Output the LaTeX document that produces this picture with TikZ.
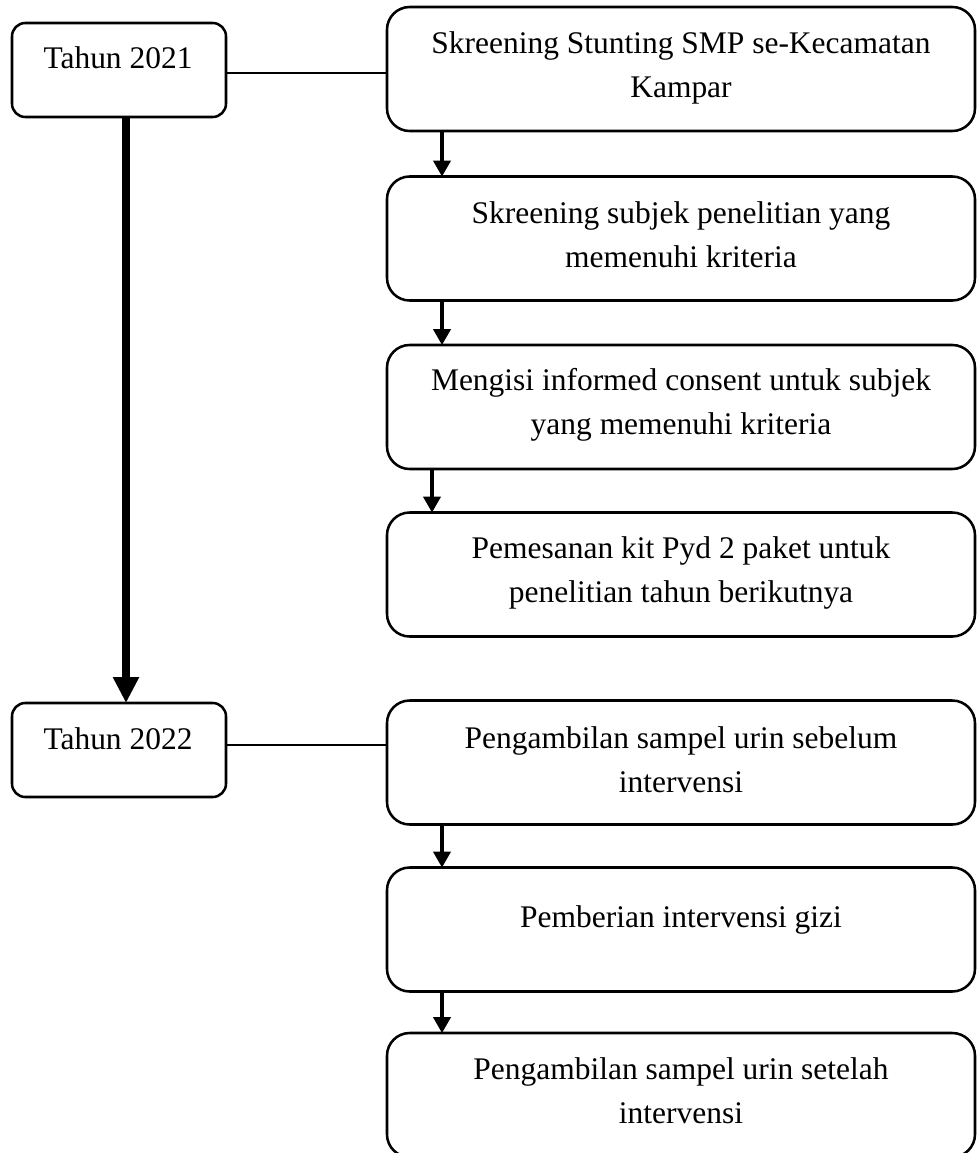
\documentclass[tikz,border=0pt]{standalone}
\usepackage{fontspec}
\setmainfont{Liberation Serif}
\usetikzlibrary{arrows.meta}
\begin{document}
\begin{tikzpicture}[x=0.75pt,y=-0.75pt,
 box/.style={draw, line width=1.9pt, rounded corners=17pt, minimum width=441pt, minimum height=93pt, inner sep=0pt, outer sep=0pt},
 ybox/.style={draw, line width=1.9pt, rounded corners=10pt, minimum width=160.5pt, minimum height=70.5pt, inner sep=0pt, outer sep=0pt},
 txt/.style={anchor=base, inner sep=0pt, font=\fontsize{23.6pt}{33pt}\selectfont},
 arr/.style={line width=2.5pt, -{Triangle[width=13pt,length=12pt]}},
 bigarr/.style={line width=5.4pt, -{Triangle[width=18.5pt,length=19.5pt]}},
 link/.style={line width=1.1pt}]
\useasboundingbox (0,0) rectangle (976,1153);
% year boxes
\node[ybox] (y21) at (119,70) {};
\node[ybox] (y22) at (119,750) {};
\node[txt] (ty21) at (118,68) {Tahun 2021};
\node[txt] (ty22) at (118,749) {Tahun 2022};
% step boxes
\node[box] (b1) at (681,69) {};
\node[box] (b2) at (681,238.5) {};
\node[box] (b3) at (681,407) {};
\node[box] (b4) at (681,574.5) {};
\node[box] (b5) at (681,762.5) {};
\node[box] (b6) at (681,929.5) {};
\node[box] (b7) at (681,1095) {};
% texts
\node[txt] (t1) at (681,53) {\parbox[t]{420pt}{\centering Skreening Stunting SMP se-Kecamatan\\Kampar}};
\node[txt] (t2) at (681,223) {\parbox[t]{420pt}{\centering Skreening subjek penelitian yang\\memenuhi kriteria}};
\node[txt] (t3) at (681,390) {\parbox[t]{420pt}{\centering Mengisi informed consent untuk subjek\\yang memenuhi kriteria}};
\node[txt] (t4) at (681,558) {\parbox[t]{420pt}{\centering Pemesanan kit Pyd 2 paket untuk\\penelitian tahun berikutnya}};
\node[txt] (t5) at (681,748) {\parbox[t]{420pt}{\centering Pengambilan sampel urin sebelum\\intervensi}};
\node[txt] (t6) at (681,927) {\parbox[t]{420pt}{\centering Pemberian intervensi gizi}};
\node[txt] (t7) at (681,1079) {\parbox[t]{420pt}{\centering Pengambilan sampel urin setelah\\intervensi}};
% helper coordinates
\coordinate (ax) at (442,0);
\coordinate (ax3) at (432,0);
\coordinate (tx) at (126,0);
\coordinate (c1) at (0,73);
\coordinate (c2) at (0,745);
% links
\draw[link] (y21.east |- c1) -- (b1.west |- c1);
\draw[link] (y22.east |- c2) -- (b5.west |- c2);
% arrows
\draw[arr] (b1.south -| ax) -- (b2.north -| ax);
\draw[arr] (b2.south -| ax) -- (b3.north -| ax);
\draw[arr] (b3.south -| ax3) -- (b4.north -| ax3);
\draw[arr] (b5.south -| ax) -- (b6.north -| ax);
\draw[arr] (b6.south -| ax) -- (b7.north -| ax);
\draw[bigarr] (y21.south -| tx) -- (y22.north -| tx);
\end{tikzpicture}
\end{document}
